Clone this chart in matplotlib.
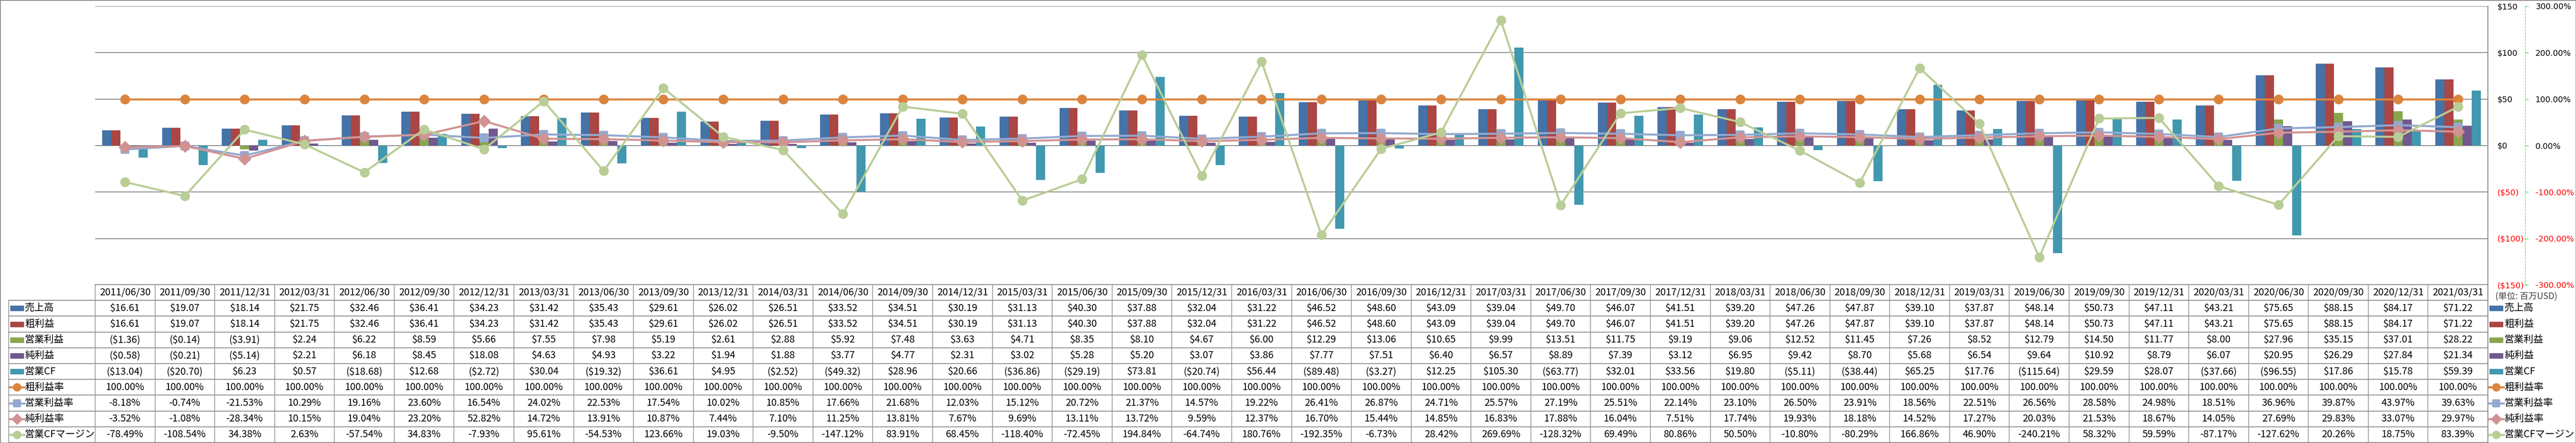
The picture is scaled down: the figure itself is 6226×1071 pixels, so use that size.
import numpy as np
import matplotlib
matplotlib.use('Agg')
import matplotlib.pyplot as plt
from matplotlib.markers import MarkerStyle
from matplotlib.patches import Rectangle

# ---- data (百万USD / %) ----
dates = ['2011/06/30', '2011/09/30', '2011/12/31', '2012/03/31', '2012/06/30', '2012/09/30',
         '2012/12/31', '2013/03/31', '2013/06/30', '2013/09/30', '2013/12/31', '2014/03/31',
         '2014/06/30', '2014/09/30', '2014/12/31', '2015/03/31', '2015/06/30', '2015/09/30',
         '2015/12/31', '2016/03/31', '2016/06/30', '2016/09/30', '2016/12/31', '2017/03/31',
         '2017/06/30', '2017/09/30', '2017/12/31', '2018/03/31', '2018/06/30', '2018/09/30',
         '2018/12/31', '2019/03/31', '2019/06/30', '2019/09/30', '2019/12/31', '2020/03/31',
         '2020/06/30', '2020/09/30', '2020/12/31', '2021/03/31']
sales = [16.61, 19.07, 18.14, 21.75, 32.46, 36.41, 34.23, 31.42, 35.43, 29.61, 26.02, 26.51,
         33.52, 34.51, 30.19, 31.13, 40.30, 37.88, 32.04, 31.22, 46.52, 48.60, 43.09, 39.04,
         49.70, 46.07, 41.51, 39.20, 47.26, 47.87, 39.10, 37.87, 48.14, 50.73, 47.11, 43.21,
         75.65, 88.15, 84.17, 71.22]
gross = [16.61, 19.07, 18.14, 21.75, 32.46, 36.41, 34.23, 31.42, 35.43, 29.61, 26.02, 26.51,
         33.52, 34.51, 30.19, 31.13, 40.30, 37.88, 32.04, 31.22, 46.52, 48.60, 43.09, 39.04,
         49.70, 46.07, 41.51, 39.20, 47.26, 47.87, 39.10, 37.87, 48.14, 50.73, 47.11, 43.21,
         75.65, 88.15, 84.17, 71.22]
op_income = [-1.36, -0.14, -3.91, 2.24, 6.22, 8.59, 5.66, 7.55, 7.98, 5.19, 2.61, 2.88,
             5.92, 7.48, 3.63, 4.71, 8.35, 8.10, 4.67, 6.00, 12.29, 13.06, 10.65, 9.99,
             13.51, 11.75, 9.19, 9.06, 12.52, 11.45, 7.26, 8.52, 12.79, 14.50, 11.77, 8.00,
             27.96, 35.15, 37.01, 28.22]
net_income = [-0.58, -0.21, -5.14, 2.21, 6.18, 8.45, 18.08, 4.63, 4.93, 3.22, 1.94, 1.88,
              3.77, 4.77, 2.31, 3.02, 5.28, 5.20, 3.07, 3.86, 7.77, 7.51, 6.40, 6.57,
              8.89, 7.39, 3.12, 6.95, 9.42, 8.70, 5.68, 6.54, 9.64, 10.92, 8.79, 6.07,
              20.95, 26.29, 27.84, 21.34]
op_cf = [-13.04, -20.70, 6.23, 0.57, -18.68, 12.68, -2.72, 30.04, -19.32, 36.61, 4.95, -2.52,
         -49.32, 28.96, 20.66, -36.86, -29.19, 73.81, -20.74, 56.44, -89.48, -3.27, 12.25, 105.30,
         -63.77, 32.01, 33.56, 19.80, -5.11, -38.44, 65.25, 17.76, -115.64, 29.59, 28.07, -37.66,
         -96.55, 17.86, 15.78, 59.39]
gross_margin = [100.0] * 40
op_margin = [-8.18, -0.74, -21.53, 10.29, 19.16, 23.60, 16.54, 24.02, 22.53, 17.54, 10.02, 10.85,
             17.66, 21.68, 12.03, 15.12, 20.72, 21.37, 14.57, 19.22, 26.41, 26.87, 24.71, 25.57,
             27.19, 25.51, 22.14, 23.10, 26.50, 23.91, 18.56, 22.51, 26.56, 28.58, 24.98, 18.51,
             36.96, 39.87, 43.97, 39.63]
net_margin = [-3.52, -1.08, -28.34, 10.15, 19.04, 23.20, 52.82, 14.72, 13.91, 10.87, 7.44, 7.10,
              11.25, 13.81, 7.67, 9.69, 13.11, 13.72, 9.59, 12.37, 16.70, 15.44, 14.85, 16.83,
              17.88, 16.04, 7.51, 17.74, 19.93, 18.18, 14.52, 17.27, 20.03, 21.53, 18.67, 14.05,
              27.69, 29.83, 33.07, 29.97]
cf_margin = [-78.49, -108.54, 34.38, 2.63, -57.54, 34.83, -7.93, 95.61, -54.53, 123.66, 19.03, -9.50,
             -147.12, 83.91, 68.45, -118.40, -72.45, 194.84, -64.74, 180.76, -192.35, -6.73, 28.42, 269.69,
             -128.32, 69.49, 80.86, 50.50, -10.80, -80.29, 166.86, 46.90, -240.21, 58.32, 59.59, -87.17,
             -127.62, 20.26, 18.75, 83.39]

bar_names = ['売上高', '粗利益', '営業利益', '純利益', '営業CF']
line_names = ['粗利益率', '営業利益率', '純利益率', '営業CFマージン']

W, H = 6226, 1071
fam = ['Noto Sans CJK JP', 'DejaVu Sans']
fig = plt.figure(figsize=(W / 100, H / 100), dpi=100)

x_left, x_right = 230, 6013
y_top, y_bot = 15, 689
ax = fig.add_axes([x_left / W, 1 - y_bot / H, (x_right - x_left) / W, (y_bot - y_top) / H])
ax.set_facecolor('none')
n = len(dates)
x = np.arange(n)
bw = 0.152
bars = [(sales, '#4572A7'), (gross, '#AA4643'), (op_income, '#89A54E'),
        (net_income, '#71588F'), (op_cf, '#4198AF')]
for k, (vals, c) in enumerate(bars):
    ax.bar(x + (k - 2) * bw, vals, bw, color=c, zorder=2)
ax.set_xlim(-0.5, n - 0.5)
ax.set_ylim(-150, 150)
ax.set_xticks([])
ax.grid(axis='y', color='#868686', lw=1.5, zorder=0)

ax2 = ax.twinx()
# twinx moves the primary ticks to the left, so put them back on the right
ax.yaxis.tick_right()
yt = np.arange(-150, 151, 50)
ax.set_yticks(yt)
ax.set_yticklabels(['$%d' % t if t >= 0 else '($%d)' % -t for t in yt])
ax.tick_params(axis='y', length=0, pad=16, labelsize=14, left=False, labelleft=False,
               right=True, labelright=True)
for lab, t in zip(ax.get_yticklabels(), yt):
    lab.set_color('red' if t < 0 else 'black')
for s in ['left', 'top', 'bottom']:
    ax.spines[s].set_visible(False)
ax.spines['right'].set_color('#868686')
ax.spines['right'].set_linewidth(1.5)

ax2.set_ylim(-300, 300)
pt = np.arange(-300, 301, 100)
ax2.set_yticks(pt)
ax2.set_yticklabels(['%.2f%%' % t for t in pt])
for s in ['left', 'top', 'bottom']:
    ax2.spines[s].set_visible(False)
ax2.spines['right'].set_position(('axes', (6103 - x_left) / (x_right - x_left)))
ax2.spines['right'].set_color('#22DD22')
ax2.spines['right'].set_linestyle((0, (4, 3)))
ax2.tick_params(axis='y', length=6, width=1, color='#22DD22', pad=12, labelsize=14)
for lab, t in zip(ax2.get_yticklabels(), pt):
    lab.set_color('red' if t < 0 else 'black')

sq = MarkerStyle('s', joinstyle='round')
lines = [(gross_margin, '#DB843D', 'o', 16, 1), (op_margin, '#93A9CF', sq, 12, 4),
         (net_margin, '#D19392', 'D', 15, 1), (cf_margin, '#B9CD96', 'o', 16, 1)]
for vals, c, m, ms, mew in lines:
    ax2.plot(x, vals, color=c, lw=3.5, marker=m, ms=ms, mec=c, mfc=c, mew=mew, zorder=3)

# ---- data table ----
tab = fig.add_axes([0, 0, 1, 1], facecolor='none')
tab.set_xlim(0, W)
tab.set_ylim(H, 0)
tab.axis('off')
edges = np.linspace(x_left, x_right, n + 1)
centers = (edges[:-1] + edges[1:]) / 2
t0, rh = 688, 38.2
gc = '#8c8c8c'
tab.plot([x_left, x_right], [t0, t0], color=gc, lw=1.5)
for r in range(10):
    yy = t0 + rh * (r + 1)
    tab.plot([21, x_right], [yy, yy], color=gc, lw=1.5)
for e in edges:
    tab.plot([e, e], [t0, t0 + rh * 10], color=gc, lw=1.2)
tab.plot([21, 21], [t0 + rh, t0 + rh * 10], color=gc, lw=1.2)
tab.plot([x_right, x_right], [y_top, H], color='#868686', lw=1.5)

for cx, d in zip(centers, dates):
    tab.text(cx, t0 + rh / 2, d, ha='center', va='center', fontsize=17, family=fam)


def money(v):
    return '$%.2f' % v if v >= 0 else '($%.2f)' % -v


def pct(v):
    return '%.2f%%' % v


def key(xk, yc, idx):
    if idx < 5:
        tab.add_patch(Rectangle((xk, yc - 6), 32, 12, color=bars[idx][1]))
    else:
        vals, c, m, ms, mew = lines[idx - 5]
        tab.plot([xk - 2, xk + 34], [yc, yc], color=c, lw=3.5)
        tab.plot([xk + 16], [yc], marker=m, ms=ms * 0.85, mew=mew, color=c)


rows = [(bar_names[i], bars[i][0], money) for i in range(5)] + \
       [(line_names[i], lines[i][0], pct) for i in range(4)]
for r, (name, vals, fmt) in enumerate(rows):
    yc = t0 + rh * (r + 1.5)
    key(25, yc, r)
    tab.text(60, yc, name, ha='left', va='center', fontsize=17, family=fam)
    key(6017, yc, r)
    tab.text(6053, yc, name, ha='left', va='center', fontsize=17, family=fam)
    for cx, v in zip(centers, vals):
        tab.text(cx, yc, fmt(v), ha='center', va='center', fontsize=17, family=fam)

tab.text(6031, 717, '(単位: 百万USD)', ha='left', va='center', fontsize=15,
         family=fam, color='#404040')

fig.add_artist(Rectangle((0, 0), 1, 1, transform=fig.transFigure, fill=False,
                         ec='#868686', lw=2))
fig.savefig('out.png', dpi=100)
